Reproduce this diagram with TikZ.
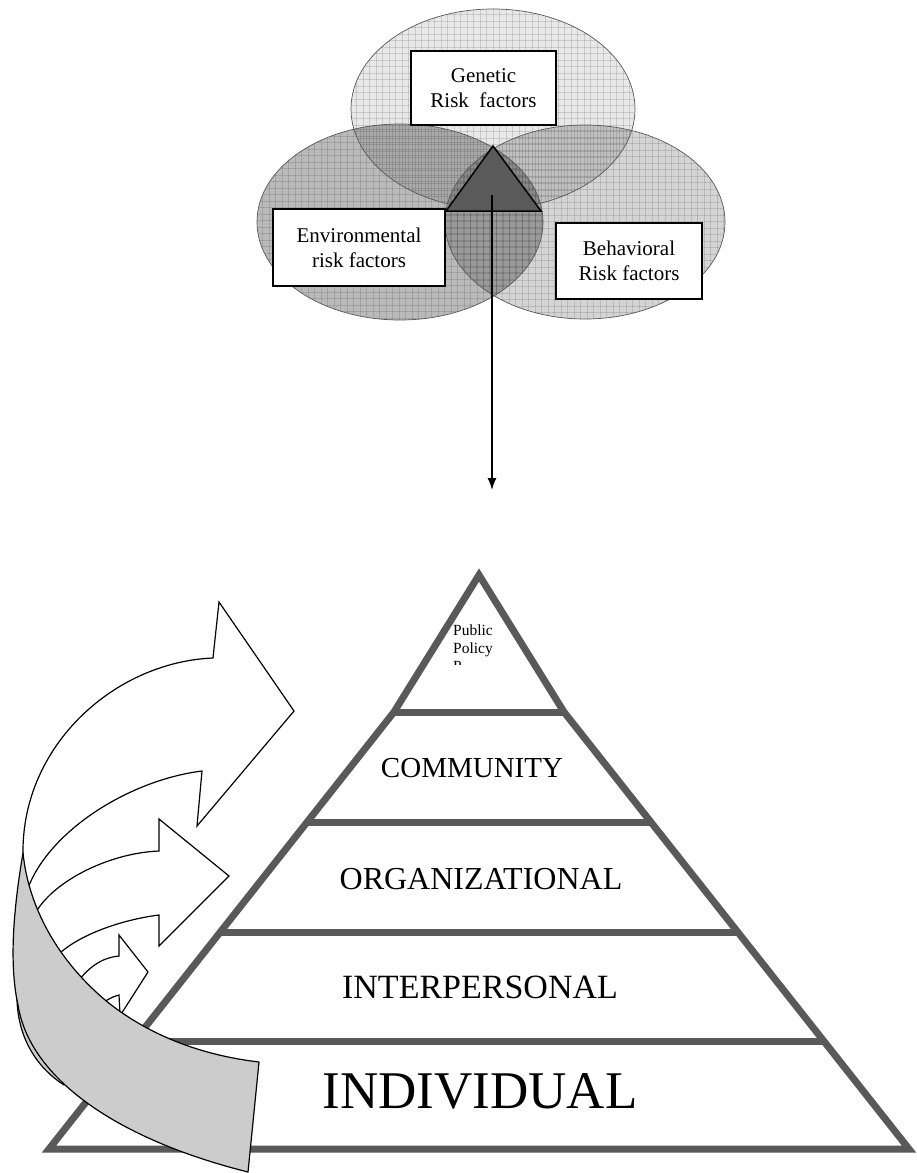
\documentclass[tikz,border=0pt]{standalone}
\usepackage{fontspec}
\setmainfont{Liberation Serif}
\usetikzlibrary{arrows.meta}
\definecolor{pyr}{RGB}{89,89,89}
\definecolor{ribbon}{RGB}{204,204,204}
\definecolor{tri}{RGB}{90,90,90}
\tikzset{
  vennline/.style={draw=black!65, line width=0.7pt},
  venngrid/.style={draw=black, opacity=0.12, line width=0.4pt},
  riskbox/.style={draw=black, line width=1.6pt, fill=white, inner sep=0pt, align=center, font=\fontsize{21}{25}\selectfont},
  pyrline/.style={draw=pyr, line width=7pt, line join=miter, miter limit=10},
  layer/.style={anchor=base, inner sep=0pt},
  blockarrow/.style={draw=black, line width=1.2pt, fill=white, line join=miter},
  ribbonshape/.style={draw=black, line width=1.2pt, fill=ribbon, line join=round},
}
\begin{document}
\begin{tikzpicture}[x=1pt, y=-1pt]
\useasboundingbox (0,0) rectangle (917,1173);
\fill[white] (0,0) rectangle (917,1173);

% ---------- Venn diagram ----------
\begin{scope}
  \clip (493,109) ellipse [x radius=142, y radius=100];
  \fill[black, opacity=0.09] (350,8) rectangle (636,210);
  \foreach \gx in {350,356.5,...,636} \draw[venngrid] (\gx,8) -- (\gx,210);
  \foreach \gy in {8,14.5,...,210} \draw[venngrid] (350,\gy) -- (636,\gy);
\end{scope}
\begin{scope}
  \clip (400,222) ellipse [x radius=143, y radius=98];
  \fill[black, opacity=0.27] (256,123) rectangle (544,321);
  \foreach \gx in {256,262.5,...,544} \draw[venngrid] (\gx,123) -- (\gx,321);
  \foreach \gy in {123,129.5,...,321} \draw[venngrid] (256,\gy) -- (544,\gy);
\end{scope}
\begin{scope}
  \clip (585,222) ellipse [x radius=140, y radius=97];
  \fill[black, opacity=0.17] (444,124) rectangle (726,320);
  \foreach \gx in {444,450.5,...,726} \draw[venngrid] (\gx,124) -- (\gx,320);
  \foreach \gy in {124,130.5,...,320} \draw[venngrid] (444,\gy) -- (726,\gy);
\end{scope}
\draw[vennline] (493,109) ellipse [x radius=142, y radius=100];
\draw[vennline] (400,222) ellipse [x radius=143, y radius=98];
\draw[vennline] (585,222) ellipse [x radius=140, y radius=97];

\coordinate (tA) at (493,146);
\coordinate (tB) at (446,211);
\coordinate (tC) at (541,211);
\draw[fill=tri, draw=black, line width=1.5pt, line join=miter] (tA) -- (tB) -- (tC) -- cycle;

\node[riskbox, minimum width=145pt, minimum height=74pt] (genetic) at (483.5,88) {Genetic\\Risk\ \ factors};
\node[riskbox, minimum width=172pt, minimum height=77pt] (environmental) at (359,247.5) {Environmental\\risk factors};
\node[riskbox, minimum width=146pt, minimum height=76pt] (behavioral) at (629,261) {Behavioral\\Risk factors};

\coordinate (vstart) at (492,195);
\coordinate (vend) at (492,490);
\draw[line width=1.5pt, -{Latex[length=12pt, width=9pt]}] (vstart) -- (vend);

% ---------- Pyramid ----------
\draw[pyrline] (479,575) -- (394,712) -- (49,1149) -- (909,1149) -- (564,712) -- cycle;
\draw[pyrline] (394,712) -- (564,712);
\draw[pyrline] (307.2,822) -- (650.8,822);
\draw[pyrline] (220.4,932) -- (737.6,932);
\draw[pyrline] (134.4,1041) -- (823.6,1041);

\begin{scope}
  \clip (440,600) rectangle (540,664);
  \node[anchor=north west, align=left, inner sep=0pt, font=\fontsize{15.5}{18}\selectfont] (policy) at (453,624.4) {Public\\Policy\\P};
\end{scope}
\node[layer, font=\fontsize{29}{34}\selectfont] (community) at (472,777) {COMMUNITY};
\node[layer, font=\fontsize{32}{38}\selectfont] (organizational) at (481,889) {ORGANIZATIONAL};
\node[layer, font=\fontsize{34}{40}\selectfont] (interpersonal) at (480,998) {INTERPERSONAL};
\node[layer, font=\fontsize{53}{60}\selectfont] (individual) at (480,1108) {INDIVIDUAL};

% ---------- Curved arrows ----------
\draw[blockarrow] (23,853) .. controls (22,745) and (115,662) .. (213,658) -- (219,602) -- (294,711) -- (197,826) -- (202,771) .. controls (130,780) and (50,830) .. (28,888) -- (22,880) -- cycle;
\draw[blockarrow] (36,912) .. controls (55,880) and (110,853) .. (159,851) -- (159,819) -- (229,876) -- (159,946) -- (159,915) .. controls (120,920) and (80,935) .. (60,953) -- (40,960) -- (25,920) -- cycle;
\draw[blockarrow] (75,985) .. controls (88,968) and (100,958) .. (119,956) -- (119,935) -- (148,972) -- (116,1022) -- (95,1015) -- cycle;
\draw[line width=1.2pt] (104,1002) .. controls (110,998) and (115,996) .. (119,995) -- (120,1014);

% ---------- Ribbon ----------
\draw[ribbonshape] (17,995) .. controls (16.5,1036) and (36,1067) .. (64,1085) -- (80,1070) -- (40,1020) -- cycle;
\draw[ribbonshape] (23,853) .. controls (15,900) and (8,960) .. (18,1005) .. controls (30,1080) and (120,1140) .. (248,1172) -- (259,1062) .. controls (200,1055) and (150,1035) .. (110,1004) .. controls (70,972) and (30,920) .. (23,853) -- cycle;
\end{tikzpicture}
\end{document}
